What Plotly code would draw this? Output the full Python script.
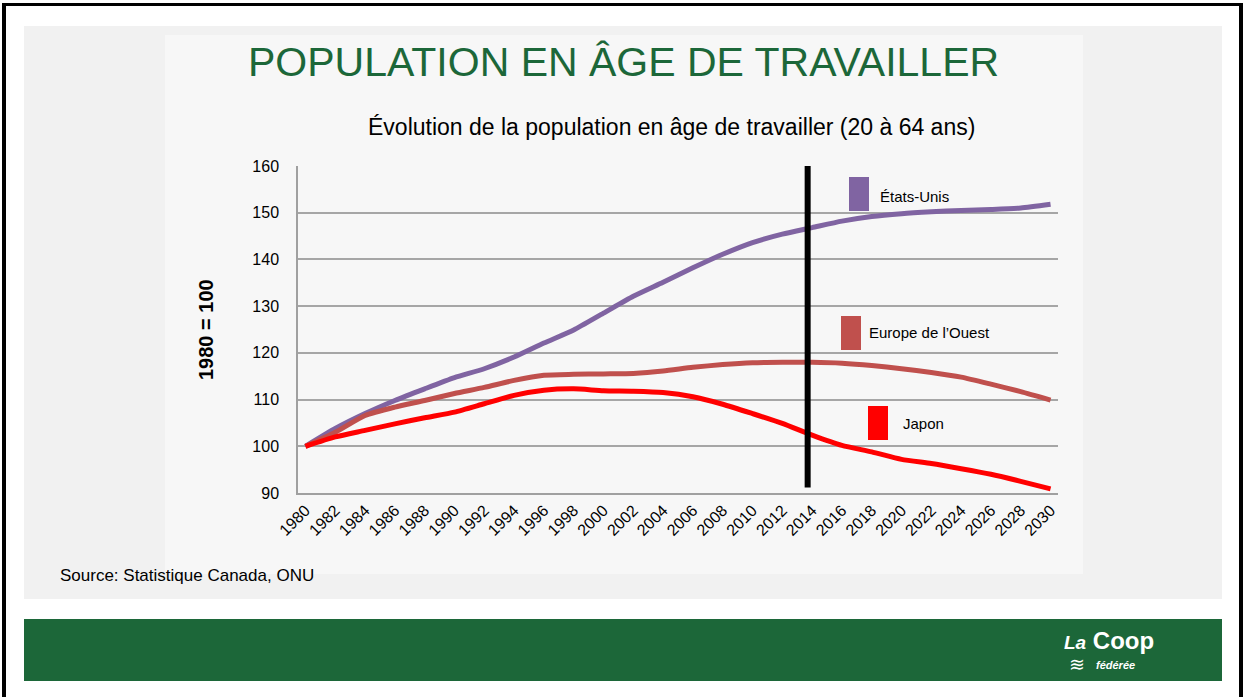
import plotly.graph_objects as go

# ===== data (index, 1980 = 100) =====
YEARS = [1980, 1982, 1984, 1986, 1988, 1990, 1992, 1994, 1996, 1998, 2000, 2002, 2004,
         2006, 2008, 2010, 2012, 2014, 2016, 2018, 2020, 2022, 2024, 2026, 2028, 2030]
USA = [100.0, 103.8, 107.0, 109.8, 112.3, 114.7, 116.6, 119.1, 122.1, 124.9, 128.5, 132.1, 135.1,
       138.2, 141.1, 143.6, 145.4, 146.8, 148.2, 149.2, 149.8, 150.2, 150.5, 150.7, 151.0, 151.8]
EUROPE = [100.0, 103.0, 106.6, 108.4, 109.8, 111.3, 112.6, 114.1, 115.2, 115.4, 115.5, 115.6, 116.1,
          116.9, 117.5, 117.9, 118.0, 118.0, 117.8, 117.3, 116.6, 115.8, 114.8, 113.3, 111.7, 109.9]
JAPAN = [100.0, 102.0, 103.4, 104.8, 106.1, 107.3, 109.1, 110.9, 112.0, 112.3, 111.9, 111.8, 111.5,
         110.6, 109.0, 107.0, 104.9, 102.4, 100.2, 98.8, 97.2, 96.3, 95.2, 94.0, 92.5, 90.9]
SERIES = ["États-Unis", "Europe de l’Ouest", "Japon"]
MARK_YEAR = 2013.7     # the black "today" bar
MARK_LOW = 91.2

W, H = 1244, 697
GREEN = "#1c6739"
COLORS = ["#8064a2", "#c0504d", "#ff0000"]
FONT = "Liberation Sans, Arial, sans-serif"


def px(x):
    return x / W


def py(y):
    return 1 - y / H


fig = go.Figure()
for name, vals, col in zip(SERIES, [USA, EUROPE, JAPAN], COLORS):
    fig.add_trace(go.Scatter(x=YEARS, y=vals, mode="lines", name=name,
                             line=dict(color=col, width=5, shape="spline", smoothing=0.6),
                             showlegend=False, hoverinfo="x+y+name"))

shapes = [
    # outer black frame (top, left, right)
    dict(type="rect", xref="paper", yref="paper", x0=px(2), x1=px(6), y0=0, y1=py(3),
         fillcolor="black", line_width=0, layer="below"),
    dict(type="rect", xref="paper", yref="paper", x0=px(2), x1=px(1243), y0=py(6), y1=py(3),
         fillcolor="black", line_width=0, layer="below"),
    dict(type="rect", xref="paper", yref="paper", x0=px(1239), x1=px(1243), y0=0, y1=py(3),
         fillcolor="black", line_width=0, layer="below"),
    # grey slide panel and lighter chart panel
    dict(type="rect", xref="paper", yref="paper", x0=px(24), x1=px(1222), y0=py(599), y1=py(26),
         fillcolor="#f1f1f1", line_width=0, layer="below"),
    dict(type="rect", xref="paper", yref="paper", x0=px(165), x1=px(1083), y0=py(574), y1=py(35),
         fillcolor="#f7f7f7", line_width=0, layer="below"),
    # green footer band
    dict(type="rect", xref="paper", yref="paper", x0=px(24), x1=px(1222), y0=py(681), y1=py(619),
         fillcolor=GREEN, line_width=0, layer="below"),
    # vertical marker
    dict(type="line", xref="x", yref="y", x0=MARK_YEAR, x1=MARK_YEAR, y0=MARK_LOW, y1=160,
         line=dict(color="black", width=6), layer="above"),
]

# custom legend swatches: (swatch left, swatch top, text left, text centre y)
LEG = [(849, 177, 878, 196), (841, 316, 867, 332), (868, 406, 901, 423)]
annotations = []
for (sx, sy, tx, ty), name, col in zip(LEG, SERIES, COLORS):
    shapes.append(dict(type="rect", xref="paper", yref="paper", x0=px(sx), x1=px(sx + 20),
                       y0=py(sy + 34), y1=py(sy), fillcolor=col, line_width=0))
    annotations.append(dict(xref="paper", yref="paper", x=px(tx), y=py(ty), text=name,
                            showarrow=False, xanchor="left", yanchor="middle",
                            font=dict(size=15, color="black")))

annotations += [
    dict(xref="paper", yref="paper", x=px(623), y=py(62), text="POPULATION EN ÂGE DE TRAVAILLER",
         showarrow=False, xanchor="center", yanchor="middle",
         font=dict(size=41, color=GREEN)),
    dict(xref="paper", yref="paper", x=px(671), y=py(127),
         text="Évolution de la population en âge de travailler (20 à 64 ans)",
         showarrow=False, xanchor="center", yanchor="middle",
         font=dict(size=23, color="black")),
    dict(xref="paper", yref="paper", x=px(58), y=py(575), text="Source: Statistique Canada, ONU",
         showarrow=False, xanchor="left", yanchor="middle", font=dict(size=17, color="black")),
    dict(xref="paper", yref="paper", x=px(206), y=py(330), text="<b>1980 = 100</b>", textangle=-90,
         showarrow=False, xanchor="center", yanchor="middle", font=dict(size=20, color="black")),
    # logo
    dict(xref="paper", yref="paper", x=px(1109), y=py(640),
         text="<b><i><span style='font-size:19px'>La</span></i></b> <b>Coop</b>",
         showarrow=False, xanchor="center", yanchor="middle",
         font=dict(size=24, color="white")),
    dict(xref="paper", yref="paper", x=px(1115), y=py(665), text="<b><i>fédérée</i></b>",
         showarrow=False, xanchor="center", yanchor="middle", font=dict(size=11, color="white")),
    dict(xref="paper", yref="paper", x=px(1077), y=py(664), text="≋",
         showarrow=False, xanchor="center", yanchor="middle", font=dict(size=19, color="white")),
]

fig.update_layout(
    width=W, height=H, autosize=False,
    margin=dict(l=0, r=0, t=0, b=0, pad=0, autoexpand=False),
    paper_bgcolor="white", plot_bgcolor="#f7f7f7",
    font=dict(family=FONT, color="black"),
    shapes=shapes, annotations=annotations,
    xaxis=dict(domain=[px(298), px(1058)], range=[1979.5, 2030.5], automargin=False,
               tickvals=YEARS, ticktext=[str(y) for y in YEARS], tickangle=-45,
               tickfont=dict(size=16), showgrid=False, zeroline=False,
               showline=True, linecolor="#a0a0a0", linewidth=1.5, ticks=""),
    yaxis=dict(domain=[py(493), py(166)], range=[90, 160], dtick=10, automargin=False,
               tickfont=dict(size=16), showgrid=True, gridcolor="#a6a6a6", gridwidth=1.5,
               zeroline=False, showline=True, linecolor="#a0a0a0", linewidth=1.5,
               ticks="", ticklabelstandoff=14),
)

fig.write_html("out.html", config={"displayModeBar": False},
               post_script="document.body.style.margin = '0';")
